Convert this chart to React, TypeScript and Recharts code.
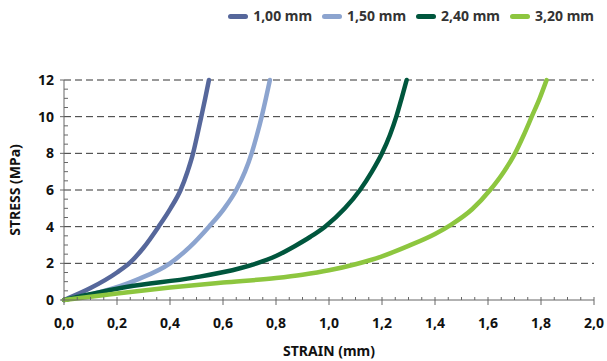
import React from "react";
import {
  LineChart,
  Line,
  XAxis,
  YAxis,
  Legend,
  ReferenceLine,
} from "recharts";

// strain (mm) / stress (MPa)
const strain100 = [0, 0.1, 0.2, 0.25, 0.3, 0.357, 0.402, 0.44, 0.466, 0.487, 0.503, 0.518, 0.533, 0.547];
const stress100 = [0, 0.65, 1.5, 2.05, 2.85, 4, 5, 6, 7, 8, 9, 10, 11, 12];

const strain150 = [0, 0.274, 0.4, 0.475, 0.547, 0.605, 0.65, 0.683, 0.708, 0.728, 0.746, 0.762, 0.777];
const stress150 = [0, 1.1, 2, 2.9, 4, 5, 6, 7, 8, 9, 10, 11, 12];

const strain240 = [0, 0.24, 0.49, 0.664, 0.727, 0.8, 0.872, 0.93, 0.985, 1.06, 1.117, 1.162, 1.2, 1.23, 1.254, 1.274, 1.293];
const stress240 = [0, 0.72, 1.22, 1.73, 2.0, 2.4, 2.95, 3.45, 4.0, 5.0, 6.0, 7.0, 8.0, 9.0, 10, 11, 12];

const strain320 = [0, 0.2, 0.4, 0.6, 0.8, 0.9, 1.0, 1.1, 1.2, 1.3, 1.4, 1.46, 1.54, 1.608, 1.66, 1.702, 1.735, 1.765, 1.795, 1.821];
const stress320 = [0, 0.36, 0.68, 0.95, 1.2, 1.38, 1.62, 1.95, 2.38, 2.95, 3.6, 4.1, 4.95, 6.0, 7.0, 8.0, 9.0, 10, 11, 12];

const seriesNames = ["1,00 mm", "1,50 mm", "2,40 mm", "3,20 mm"];
const seriesColors = ["#56679b", "#8ca4cf", "#00563d", "#8dc63f"];

const gridLevels = [2, 4, 6, 8, 10, 12];
const xTicks = Array.from({ length: 41 }, (_, i) => Math.round(i * 5) / 100);
const yTicks = Array.from({ length: 25 }, (_, i) => i / 2);

const toPoints = (xs: number[], ys: number[]) =>
  xs.map((x, i) => ({ x, y: ys[i] }));

const series = [
  toPoints(strain100, stress100),
  toPoints(strain150, stress150),
  toPoints(strain240, stress240),
  toPoints(strain320, stress320),
];

const FONT = "'Noto Sans', sans-serif";
const AXIS = "#666";

const XTick = (props: any) => {
  const { x, y, payload } = props;
  const v = payload.value as number;
  const major = Math.abs(v * 5 - Math.round(v * 5)) < 1e-6;
  return (
    <g>
      <line x1={x} x2={x} y1={y - 3} y2={major ? y + 5 : y} stroke={AXIS} />
      {major && (
        <text
          x={x}
          y={y + 28}
          textAnchor="middle"
          fontFamily={FONT}
          fontWeight={700}
          fontSize={14}
          fill="#111"
        >
          {v.toFixed(1).replace(".", ",")}
        </text>
      )}
    </g>
  );
};

const YTick = (props: any) => {
  const { x, y, payload } = props;
  const v = payload.value as number;
  const major = v % 2 === 0;
  return (
    <g>
      <line x1={major ? x - 4 : x} x2={major ? x : x + 4} y1={y} y2={y} stroke={AXIS} />
      {major && (
        <text
          x={x - 10}
          y={y + 5}
          textAnchor="end"
          fontFamily={FONT}
          fontWeight={700}
          fontSize={14}
          fill="#111"
        >
          {v}
        </text>
      )}
    </g>
  );
};

const LegendBox = () => (
  <div
    style={{
      height: 72,
      display: "flex",
      justifyContent: "flex-end",
      alignItems: "flex-start",
      fontFamily: FONT,
      fontWeight: 700,
      fontSize: 14,
      color: "#333",
      lineHeight: "16px",
    }}
  >
    {seriesNames.map((name, i) => (
      <div key={name} style={{ display: "flex", alignItems: "center", marginLeft: 10 }}>
        <span
          style={{
            display: "inline-block",
            width: 20,
            height: 5,
            borderRadius: 3,
            background: seriesColors[i],
            marginRight: 5,
          }}
        />
        {name}
      </div>
    ))}
  </div>
);

export default function App() {
  return (
    <div style={{ position: "absolute", left: 0, top: 0, background: "#fff" }}>
      <LineChart width={607} height={361} margin={{ top: 8, right: 13, bottom: 0, left: 0 }}>
        <XAxis
          dataKey="x"
          type="number"
          domain={[0, 2]}
          ticks={xTicks}
          interval={0}
          tickSize={0}
          tickMargin={0}
          tickLine={false}
          tick={<XTick />}
          stroke={AXIS}
          height={61}
          allowDuplicatedCategory={false}
          label={{
            value: "STRAIN (mm)",
            position: "insideBottom",
            offset: 5,
            style: { fontFamily: FONT, fontWeight: 700, fontSize: 14, fill: "#111" },
          }}
        />
        <YAxis
          dataKey="y"
          type="number"
          domain={[0, 12]}
          ticks={yTicks}
          interval={0}
          tickSize={0}
          tickMargin={0}
          tickLine={false}
          tick={<YTick />}
          stroke={AXIS}
          width={64}
          label={{
            value: "STRESS (MPa)",
            angle: -90,
            position: "insideLeft",
            offset: 15,
            style: { textAnchor: "middle", fontFamily: FONT, fontWeight: 700, fontSize: 14, fill: "#111" },
          }}
        />
        {gridLevels.map((g) => (
          <ReferenceLine key={g} y={g} stroke="#333" strokeDasharray="7 4" />
        ))}
        <Legend verticalAlign="top" align="right" content={<LegendBox />} />
        {series.map((pts, i) => (
          <Line
            key={seriesNames[i]}
            data={pts}
            dataKey="y"
            name={seriesNames[i]}
            type="monotone"
            stroke={seriesColors[i]}
            strokeWidth={4.5}
            strokeLinecap="round"
            dot={false}
            isAnimationActive={false}
          />
        ))}
      </LineChart>
    </div>
  );
}
